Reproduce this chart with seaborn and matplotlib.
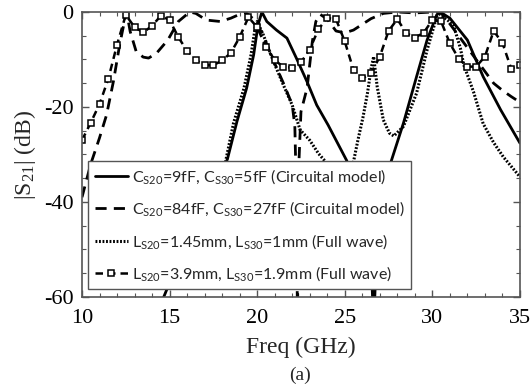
import numpy as np
import pandas as pd
import matplotlib
matplotlib.use("Agg")
import matplotlib.pyplot as plt
import seaborn as sns

# C_S20=9fF, C_S30=5fF (circuital model)
f_c9 = [14.5, 15, 16, 17, 17.5, 18, 18.3, 18.85, 19.4, 19.8, 20.05, 20.27, 20.55, 21.1,
        21.7, 22.25, 22.85, 23.4, 24.05, 25.1, 25.6, 26.0, 26.3, 26.5, 26.65, 26.8, 27.0,
        27.3, 27.6, 28.35, 29.1, 29.7, 30.25, 30.45, 31.0, 32.0, 32.9, 33.9, 35]
s_c9 = [-61.5, -57, -49, -41.5, -37.5, -33.5, -31, -23, -16, -9, -2.7, 0, -2, -3.8,
        -5.5, -9.8, -14.7, -19.6, -23.8, -31.2, -35.5, -40, -45, -52, -66, -52, -44,
        -37.5, -32, -23.4, -13.6, -5.9, -0.6, 0, -1.3, -5.9, -13.6, -20.6, -27.6]

# C_S20=84fF, C_S30=27fF (circuital model)
f_c84 = [10, 10.5, 11, 11.4, 11.8, 12.15, 12.45, 12.55, 12.75, 13.1, 13.5, 13.8, 14.25,
         14.9, 15.5, 16.15, 16.5, 17.1, 17.9, 18.5, 19.3, 19.8, 20.3, 20.9, 21.5, 22.0,
         22.15, 22.25, 22.3, 22.38, 22.5, 22.85, 23.15, 23.35, 23.6, 24.0, 24.5, 25.0,
         25.5, 26.0, 26.5, 27.2, 28.0, 29.0, 30.0, 30.45, 31.0, 31.5, 32.0, 32.5, 33.0,
         33.5, 34.0, 34.5, 35]
s_c84 = [-39, -32, -26.5, -21.7, -14.5, -6.9, -1.5, 0, -4.1, -8.4, -9.5, -9.7, -8.7,
         -5.9, -2.0, 0, -0.3, -1.7, -2.0, -1.3, 0, -1.5, -4.5, -10, -15, -19.5,
         -24, -40, -66, -32, -21, -16, -6.2, -2.0, -0.5, -1.5, -4.0, -4.4,
         -3.8, -2.6, -1.4, -0.3, 0, -0.2, 0, 0, -2.5, -5, -7.5, -10, -12.5,
         -15, -16.5, -17.8, -19]

# L_S20=1.45mm, L_S30=1mm (full wave)
f_l145 = [15.5, 16, 17, 18, 18.65, 19.25, 19.65, 19.9, 20.0, 20.35, 20.9, 21.5, 22.0,
          22.45, 23.0, 23.5, 23.9, 24.3, 24.7, 25.1, 25.5, 25.75, 26.05, 26.3, 26.5,
          26.65, 26.85, 27.2, 27.55, 27.8, 28.35, 29.1, 29.7, 30.25, 30.4, 30.8, 31.2,
          31.6, 31.8, 32.35, 32.9, 33.5, 34.05, 35]
s_l145 = [-57, -54, -46, -35, -23.4, -16, -9, -3, -2, -4.8, -10.1, -15.4, -19.6,
          -24.8, -27, -29.8, -31.5, -35, -38, -36, -31.5, -27, -22, -17, -12,
          -9.4, -15.7, -22.7, -25.5, -26.1, -24.1, -17.1, -8, -1, -0.5, -1.5, -2.7,
          -7.6, -11.2, -16.8, -23.5, -27.5, -30.5, -34.7]

# L_S20=3.9mm, L_S30=1.9mm (full wave), sampled every 0.5 GHz
f_l39 = list(np.arange(10, 35.01, 0.5))
s_l39 = [-27, -23.3, -19.4, -14.1, -6.9, -0.6, -3.2, -4.3, -2.9, -0.8, -1.7, -5.3,
         -8.2, -10.1, -11.2, -11.2, -10.2, -8.6, -5.3, -1.1, -3.2, -7.4, -10.1, -11.6,
         -11.7, -10.6, -7.9, -3.6, -1.3, -1.5, -6.2, -12.2, -14.0, -12.9, -9.4, -4.0,
         -1.5, -4.4, -5.4, -4.4, -1.7, -2.0, -6.6, -9.8, -11.5, -11.5, -9.4, -4.0,
         -6.5, -11.9, -11.2]

labels = [r"C$_{S20}$=9fF, C$_{S30}$=5fF (Circuital model)",
          r"C$_{S20}$=84fF, C$_{S30}$=27fF (Circuital model)",
          r"L$_{S20}$=1.45mm, L$_{S30}$=1mm (Full wave)",
          r"L$_{S20}$=3.9mm, L$_{S30}$=1.9mm (Full wave)"]

sns.set_theme(style="ticks")
plt.rcParams["font.family"] = ["Liberation Serif", "DejaVu Serif"]
plt.rcParams["mathtext.default"] = "regular"
plt.rcParams["axes.unicode_minus"] = False

fig = plt.figure(figsize=(5.3, 3.87), dpi=100)
ax = fig.add_axes([0.1547, 0.2326, 0.8263, 0.7364])

sns.lineplot(x=f_c9, y=s_c9, ax=ax, color="black", lw=2.0, label=labels[0])
sns.lineplot(x=f_c84, y=s_c84, ax=ax, color="black", lw=2.0, dashes=False,
             linestyle=(0, (4, 2.6)), label=labels[1])
sns.lineplot(x=f_l145, y=s_l145, ax=ax, color="black", lw=2.2,
             linestyle=(0, (0.6, 0.55)), label=labels[2])
sns.lineplot(x=f_l39, y=s_l39, ax=ax, color="black", lw=1.8,
             linestyle=(0, (3, 2)), marker="s", markersize=4.5,
             markerfacecolor="white", markeredgecolor="black", markeredgewidth=1.1,
             label=labels[3])

ax.set_xlim(10, 35)
ax.set_ylim(-60, 0)
ax.set_xticks([10, 15, 20, 25, 30, 35])
ax.set_yticks([-60, -40, -20, 0])
ax.set_xticks(np.arange(10, 36, 1), minor=True)
ax.set_yticks(np.arange(-60, 1, 5), minor=True)
ax.tick_params(which="both", direction="in", top=True, right=True,
               colors="#555555", labelcolor="black", labelsize=16)
ax.tick_params(axis="x", which="major", pad=9)
ax.tick_params(axis="y", which="major", pad=6)
ax.tick_params(which="major", length=5, width=1)
ax.tick_params(which="minor", length=3, width=0.8)
for sp in ax.spines.values():
    sp.set_color("#555555")
    sp.set_linewidth(1.2)

ax.set_xlabel("Freq (GHz)", fontsize=17, labelpad=6)
ax.set_ylabel(r"|S$_{21}$| (dB)", fontsize=17, labelpad=4)
fig.text(0.566, 0.031, "(a)", ha="center", va="center", fontsize=14)

leg = ax.legend(loc="lower left", bbox_to_anchor=(0.014, 0.027), frameon=True,
                fancybox=False, edgecolor="#555555", framealpha=1,
                prop={"family": "Lato", "size": 11.5}, handlelength=2.1,
                handletextpad=0.25, labelspacing=0.85, borderpad=0.4,
                borderaxespad=0)
leg.get_frame().set_linewidth(1.0)

fig.savefig("out.png", dpi=100)
